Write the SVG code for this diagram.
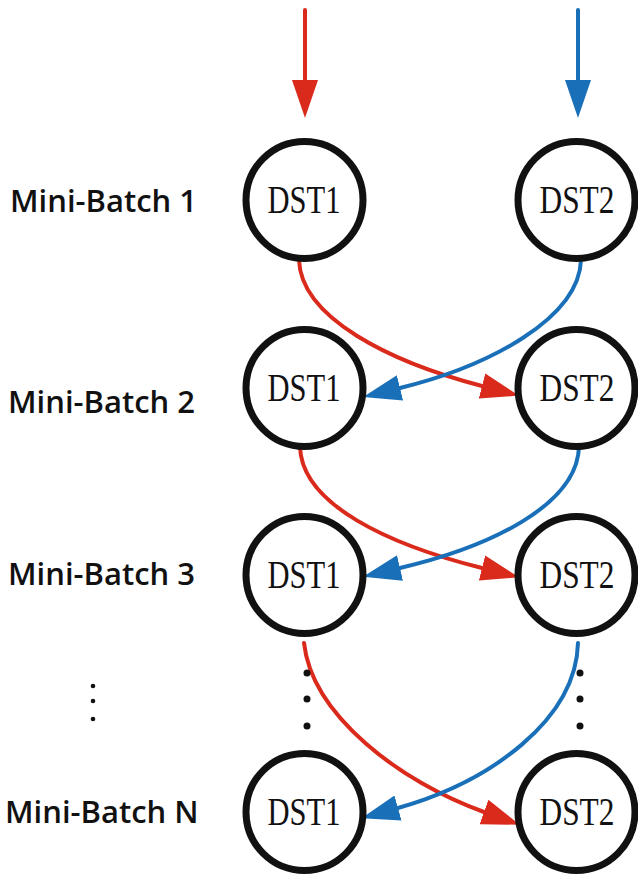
<svg xmlns="http://www.w3.org/2000/svg" width="638" height="874" viewBox="0 0 638 874">
  <style>
    .node { fill: #ffffff; stroke: #111111; stroke-width: 7; }
    .dst { font-family: "Liberation Serif", serif; font-size: 39px; fill: #111111; text-anchor: middle; }
    .label { font-family: "Open Sans", "Liberation Sans", sans-serif; font-weight: 600; font-size: 31px; fill: #111111; }
    .red { fill: none; stroke: #DA2A1C; stroke-width: 4; stroke-linecap: round; }
    .blue { fill: none; stroke: #1A70B8; stroke-width: 4; stroke-linecap: round; }
    .dot { fill: #111111; }
  </style>
  <defs>
    <marker id="headRed" markerUnits="userSpaceOnUse" markerWidth="40" markerHeight="26" refX="0" refY="13" orient="auto" viewBox="0 0 40 26">
      <path d="M0,0 L38,13 L0,26 z" fill="#DA2A1C"/>
    </marker>
    <marker id="headBlue" markerUnits="userSpaceOnUse" markerWidth="40" markerHeight="26" refX="0" refY="13" orient="auto" viewBox="0 0 40 26">
      <path d="M0,0 L38,13 L0,26 z" fill="#1A70B8"/>
    </marker>
  </defs>

  <!-- row labels -->
  <g id="labels">
    <text class="label" x="10" y="212">Mini-Batch 1</text>
    <text class="label" x="8" y="413">Mini-Batch 2</text>
    <text class="label" x="8" y="585">Mini-Batch 3</text>
    <text class="label" x="5" y="823">Mini-Batch N</text>
  </g>

  <!-- connectors -->
  <g id="connectors">
    <path class="red" d="M305,10 L305,80" marker-end="url(#headRed)"/>
    <path class="blue" d="M578,10 L578,80" marker-end="url(#headBlue)"/>

    <path class="red" d="M299,260 C301,318 390,362 482,386" marker-end="url(#headRed)"/>
    <path class="blue" d="M581,260 C579,318 490,366 400,388" marker-end="url(#headBlue)"/>

    <path class="red" d="M300,447 C302,505 390,545 482,568" marker-end="url(#headRed)"/>
    <path class="blue" d="M579,447 C577,505 490,547 400,568" marker-end="url(#headBlue)"/>

    <path class="red" d="M304,643 C312,715 400,782 484,812" marker-end="url(#headRed)"/>
    <path class="blue" d="M578,643 C576,720 490,782 398,808" marker-end="url(#headBlue)"/>
  </g>

  <!-- continuation dots -->
  <g id="ellipsis">
    <circle class="dot" cx="93" cy="686" r="2.3"/>
    <circle class="dot" cx="93" cy="701" r="2.3"/>
    <circle class="dot" cx="93" cy="719" r="2.3"/>
    <circle class="dot" cx="307" cy="673" r="3.5"/>
    <circle class="dot" cx="307" cy="699" r="3.5"/>
    <circle class="dot" cx="307" cy="726" r="3.5"/>
    <circle class="dot" cx="580" cy="673" r="3.5"/>
    <circle class="dot" cx="580" cy="699" r="3.5"/>
    <circle class="dot" cx="580" cy="726" r="3.5"/>
  </g>

  <!-- nodes -->
  <g id="mb1-dst1"><circle class="node" cx="304.5" cy="200" r="58.5"/><text class="dst" x="304" y="213" textLength="73" lengthAdjust="spacingAndGlyphs">DST1</text></g>
  <g id="mb1-dst2"><circle class="node" cx="576.5" cy="200" r="58.5"/><text class="dst" x="577" y="213" textLength="75" lengthAdjust="spacingAndGlyphs">DST2</text></g>
  <g id="mb2-dst1"><circle class="node" cx="304.5" cy="388" r="58.5"/><text class="dst" x="304" y="401" textLength="73" lengthAdjust="spacingAndGlyphs">DST1</text></g>
  <g id="mb2-dst2"><circle class="node" cx="576.5" cy="388" r="58.5"/><text class="dst" x="577" y="401" textLength="75" lengthAdjust="spacingAndGlyphs">DST2</text></g>
  <g id="mb3-dst1"><circle class="node" cx="304.5" cy="575" r="58.5"/><text class="dst" x="304" y="588" textLength="73" lengthAdjust="spacingAndGlyphs">DST1</text></g>
  <g id="mb3-dst2"><circle class="node" cx="576.5" cy="575" r="58.5"/><text class="dst" x="577" y="588" textLength="75" lengthAdjust="spacingAndGlyphs">DST2</text></g>
  <g id="mbn-dst1"><circle class="node" cx="304.5" cy="812" r="58.5"/><text class="dst" x="304" y="825" textLength="73" lengthAdjust="spacingAndGlyphs">DST1</text></g>
  <g id="mbn-dst2"><circle class="node" cx="576.5" cy="812" r="58.5"/><text class="dst" x="577" y="825" textLength="75" lengthAdjust="spacingAndGlyphs">DST2</text></g>
</svg>
